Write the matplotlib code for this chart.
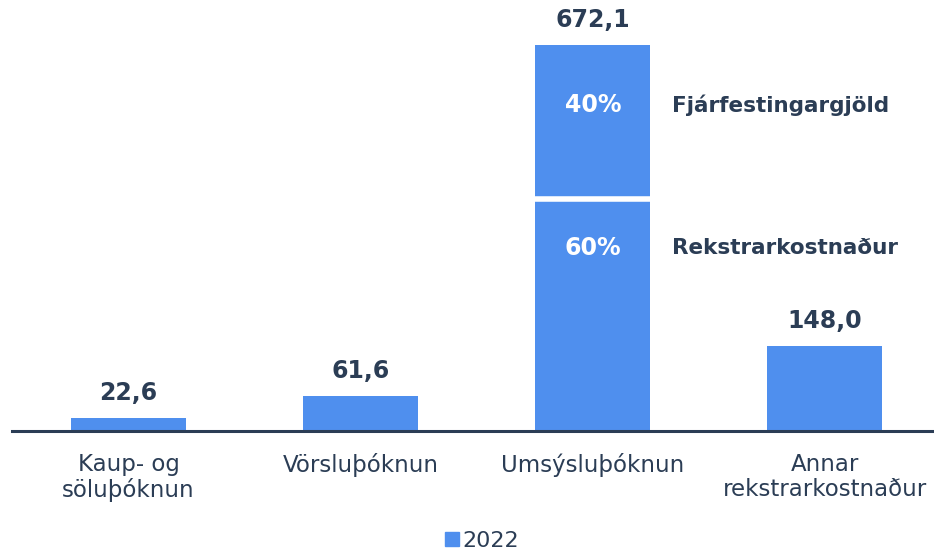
import matplotlib.pyplot as plt
from matplotlib.patches import Patch

categories = ['Kaup- og\nsöluþóknun', 'Vörsluþóknun', 'Umsýsluþóknun', 'Annar\nrekstrarkostnaður']
values = [22.6, 61.6, 672.1, 148.0]
split_shares = [0.60, 0.40]
split_names = ['Rekstrarkostnaður', 'Fjárfestingargjöld']
series_name = '2022'

blue = '#4F8FEE'
navy = '#2B3D55'

plt.rcParams['font.family'] = ['DejaVu Sans']

fig = plt.figure(figsize=(9.34, 5.55), dpi=100)
ax = fig.add_axes([12 / 934, 124 / 555, 922 / 934, 431 / 555])

x = list(range(len(categories)))
ax.bar(x, values, width=0.496, color=blue, zorder=2)

# split the third bar into two parts with a thin white gap
total = values[2]
bottom_part = total * split_shares[0]
ax.plot([2 - 0.248, 2 + 0.248], [bottom_part, bottom_part], color='white', lw=4, zorder=3,
        solid_capstyle='butt')

for xi, v in zip(x, values):
    ax.text(xi, v + 43, f'{v:.1f}'.replace('.', ','), ha='center', va='center',
            fontsize=17, fontweight='bold', color=navy)

# percentage labels inside the split bar
pct_y = [318, 567]
for share, name, yy in zip(split_shares, split_names, pct_y):
    ax.text(2, yy, f'{int(share * 100)}%', ha='center', va='center', fontsize=17,
            fontweight='bold', color='white', zorder=4)
    ax.text(2.34, yy, name, ha='left', va='center', fontsize=15.5, fontweight='bold', color=navy)

ax.set_xlim(-0.502, 3.47)
ax.set_ylim(0, 750.3)
ax.set_xticks(x)
ax.set_xticklabels(categories, fontsize=16.5, color=navy, linespacing=1.1)
ax.tick_params(axis='x', length=0, pad=16)
ax.set_yticks([])
for s in ['top', 'right', 'left']:
    ax.spines[s].set_visible(False)
ax.spines['bottom'].set_color(navy)
ax.spines['bottom'].set_linewidth(2.2)
ax.spines['bottom'].set_zorder(5)

fig.legend(handles=[Patch(color=blue, label=series_name)], loc='center',
           bbox_to_anchor=(482 / 934, 1 - 541 / 555), frameon=False, fontsize=16,
           handlelength=0.6, handleheight=0.6, handletextpad=0.15, labelcolor=navy,
           borderpad=0)

fig.savefig('out.png', dpi=100)
